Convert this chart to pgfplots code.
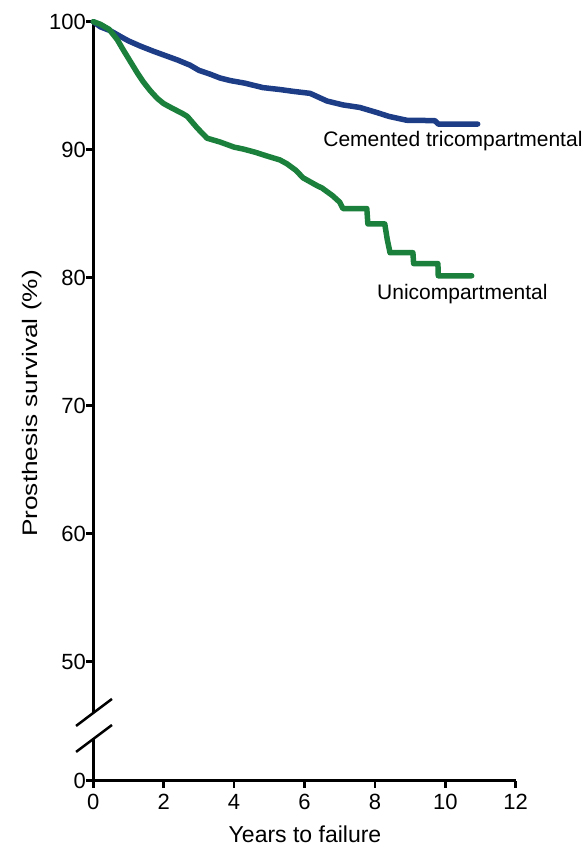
\documentclass[border=0pt]{standalone}
\usepackage{fontspec}
\setmainfont{Liberation Sans}
\usepackage{pgfplots}
\pgfplotsset{compat=1.18}
\definecolor{cblue}{RGB}{30,61,135}
\definecolor{cgreen}{RGB}{27,128,60}
\begin{document}
\begin{tikzpicture}[x=1pt,y=1pt]
\useasboundingbox (0,0) rectangle (587,846);
\begin{axis}[
  scale only axis, width=422.4pt, height=759pt,
  at={(93.3pt,65.3pt)}, anchor=south west,
  xmin=0, xmax=12, ymin=40.7, ymax=100,
  axis x line=bottom, axis y line=left,
  axis line style={-, line width=2.5pt},
  y axis line style={draw=none},
  xtick={0,2,...,12},
  ytick={40.7,50,60,70,80,90,100},
  yticklabels={0,50,60,70,80,90,100},
  tick align=outside, major tick length=7pt,
  every tick/.style={black, line width=2.5pt},
  tick label style={font=\fontsize{22}{26}\selectfont},
  yticklabel style={xshift=3pt},
  xticklabel style={yshift=-3pt},
  /pgf/number format/assume math mode=true,
  clip=false,
]
% y axis line with break
\draw[line width=2.5pt] (axis cs:0,100) -- (axis cs:0,46.0);
\draw[line width=2.5pt] (axis cs:0,44.04) -- (axis cs:0,40.7);
\draw[line width=2.5pt] (axis cs:-0.49,44.98) -- (axis cs:0.53,47.09);
\draw[line width=2.5pt] (axis cs:-0.49,42.95) -- (axis cs:0.53,45.05);
\draw[line width=3.5pt] (axis cs:0,40.7) -- (axis cs:1.05,40.7);

\addplot[cblue, line width=5.5pt, line join=round, line cap=round] coordinates {
(0,100) (0.2,99.6) (0.48,99.3) (0.8,98.8) (1.0,98.5) (1.33,98.1) (1.7,97.7)
(2.0,97.4) (2.4,97.0) (2.75,96.6) (3.0,96.2) (3.32,95.9) (3.6,95.6) (3.89,95.4)
(4.3,95.2) (4.82,94.85) (5.3,94.7) (5.7,94.55) (6.16,94.4) (6.4,94.1) (6.64,93.8)
(7.09,93.5) (7.57,93.3) (8.06,92.9) (8.4,92.6) (8.9,92.3) (9.7,92.27) (9.8,92.0)
(10.92,92.0)
};
\addplot[cgreen, line width=5.5pt, line join=round, line cap=round] coordinates {
(0,100) (0.2,99.8) (0.45,99.4) (0.68,98.6) (0.85,97.8) (1.05,96.9) (1.25,96.0)
(1.42,95.3) (1.62,94.6) (1.82,94.0) (2.0,93.6) (2.2,93.3) (2.55,92.8) (2.67,92.6) (2.95,91.7)
(3.23,90.9) (3.6,90.6) (4.0,90.2) (4.26,90.05) (4.6,89.8) (4.94,89.5) (5.3,89.2)
(5.5,88.9) (5.75,88.4) (5.96,87.8) (6.35,87.2) (6.5,87.0) (6.8,86.4) (7.0,85.9)
(7.09,85.4) (7.77,85.4) (7.8,84.2) (8.28,84.2) (8.35,83.0) (8.43,81.95) (9.08,81.95)
(9.1,81.1) (9.79,81.1) (9.8,80.15) (10.75,80.15)
};
\node[anchor=base west, inner sep=0pt, font=\fontsize{21}{25}\selectfont] at (axis cs:6.53,90.21) {Cemented tricompartmental};
\node[anchor=base west, inner sep=0pt, font=\fontsize{21}{25}\selectfont] at (axis cs:8.06,78.26) {Unicompartmental};
\end{axis}
\node[anchor=base, inner sep=0pt, font=\fontsize{23}{27}\selectfont] at (305,4) {Years to failure};
\node[anchor=base, rotate=90, inner sep=0pt, font=\fontsize{21}{25}\selectfont] at (37,442.5) {\scalebox{1.25}[1]{Prosthesis survival (\%)}};
\end{tikzpicture}
\end{document}
